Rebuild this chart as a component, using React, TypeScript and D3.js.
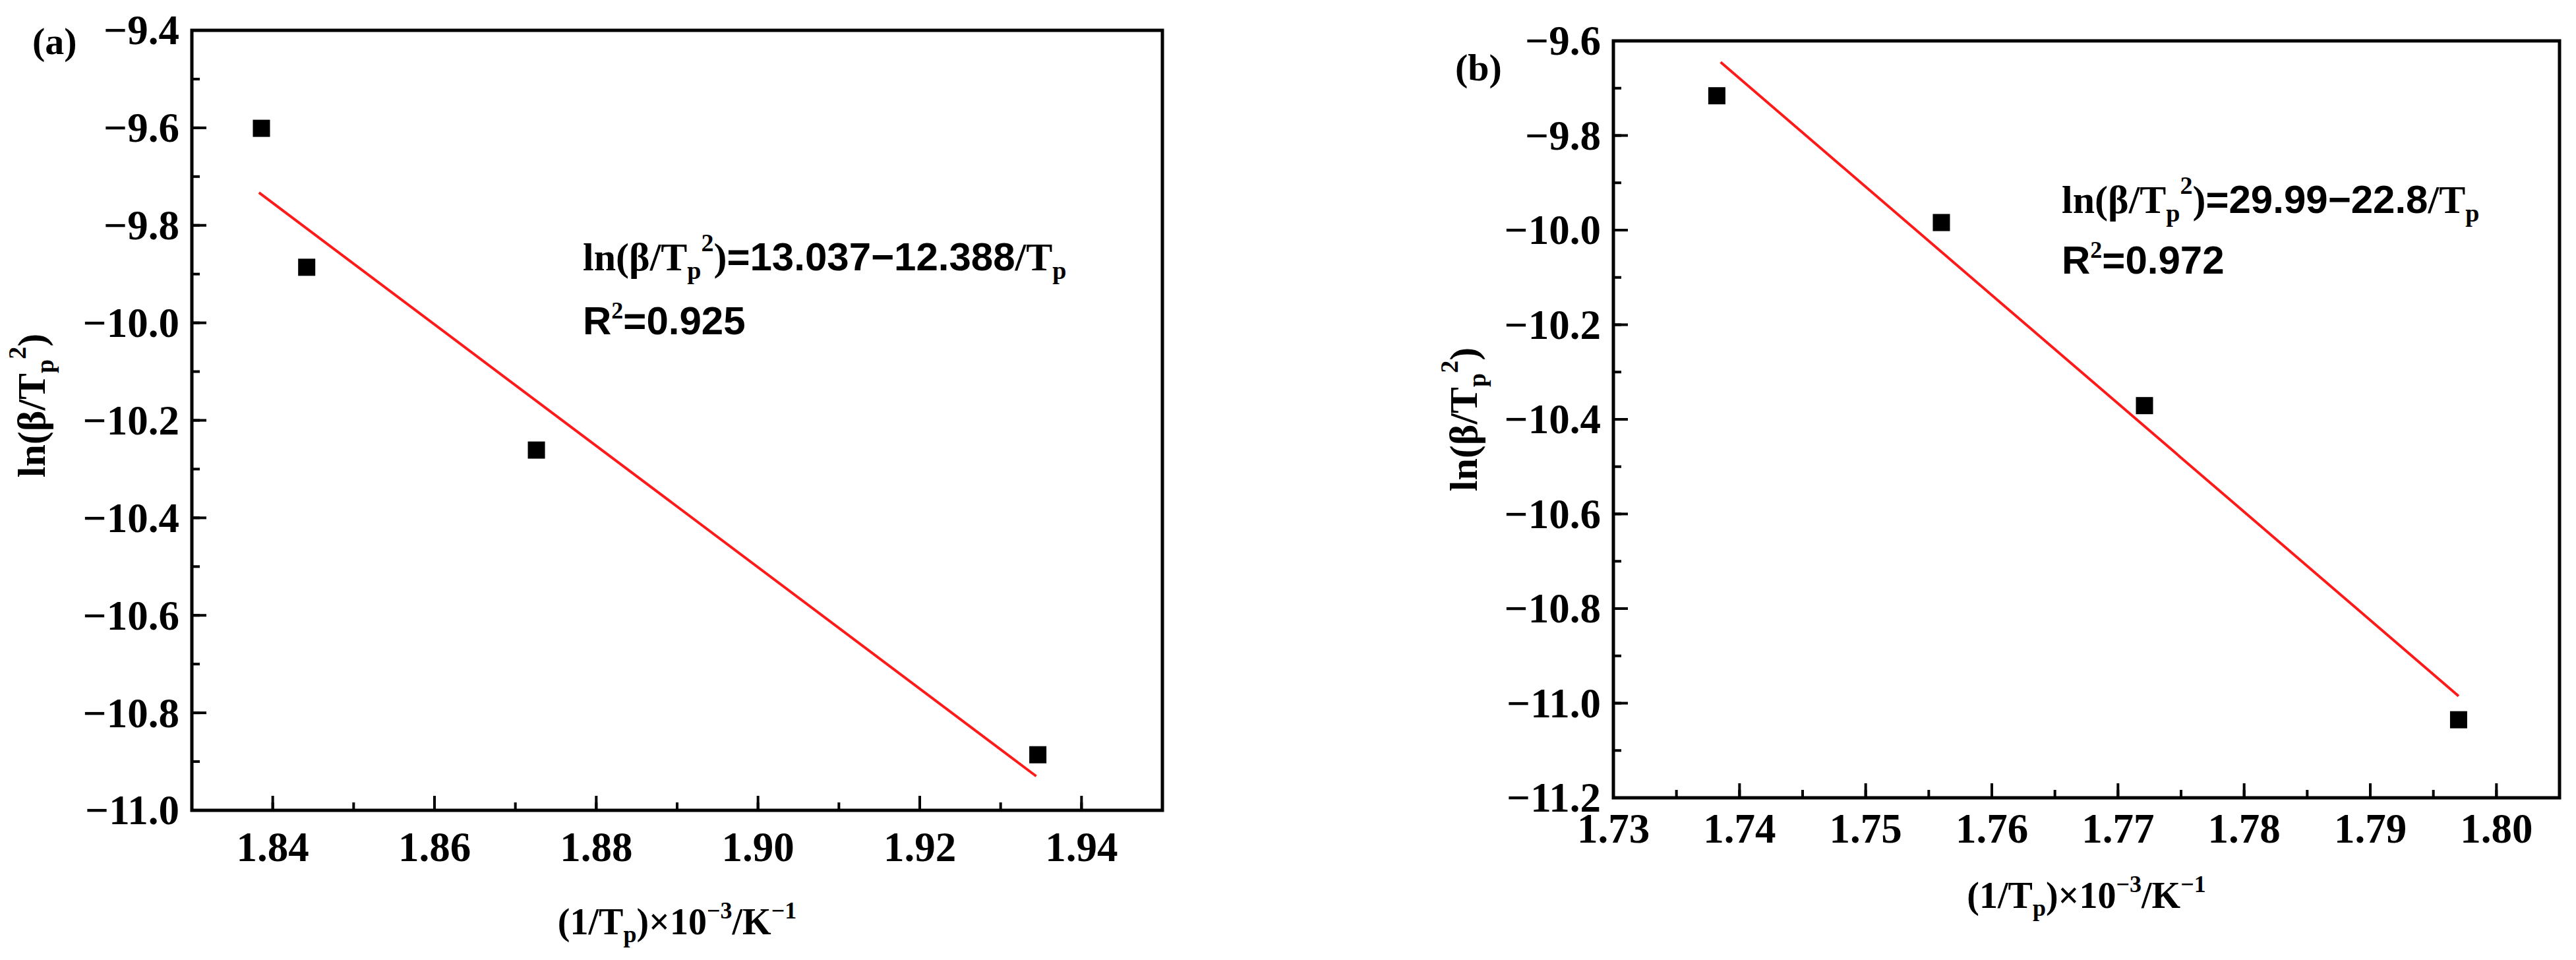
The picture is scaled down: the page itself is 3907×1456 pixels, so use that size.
import * as d3 from 'd3'

// panel (a)
const aX = [1.8386, 1.8442, 1.8726, 1.9346]
const aY = [-9.601, -9.886, -10.261, -10.886]
const aFitX = [1.8383, 1.9344]
const aFitY = [-9.733, -10.93]
const aXTicks = [1.84, 1.86, 1.88, 1.9, 1.92, 1.94]
const aYTicks = [-11.0, -10.8, -10.6, -10.4, -10.2, -10.0, -9.8, -9.6, -9.4]

// panel (b)
const bX = [1.7382, 1.756, 1.7721, 1.797]
const bY = [-9.716, -9.984, -10.371, -11.035]
const bFitX = [1.7385, 1.797]
const bFitY = [-9.645, -10.985]
const bXTicks = [1.73, 1.74, 1.75, 1.76, 1.77, 1.78, 1.79, 1.8]
const bYTicks = [-11.2, -11.0, -10.8, -10.6, -10.4, -10.2, -10.0, -9.8, -9.6]

const SERIF = '"Liberation Serif", "Times New Roman", serif'
const SANS = '"Liberation Sans", Arial, sans-serif'
const FS = 63

type PanelProps = {
  xs: number[]
  ys: number[]
  fitX: number[]
  fitY: number[]
  xTicks: number[]
  yTicks: number[]
  xDomain: [number, number]
  yDomain: [number, number]
  xMinorCount: number
  yMinorCount: number
  xFmt: string
  box: { left: number; right: number; top: number; bottom: number }
  tag: string
  tagPos: [number, number]
  intercept: string
  slope: string
  r2: string
  eqPos: [number, number]
  r2Y: number
  yLabelPos: [number, number]
  xTickY: number
  xLabelY: number
}

function Panel(p: PanelProps) {
  const { left, right, top, bottom } = p.box
  const x = d3.scaleLinear().domain(p.xDomain).range([left, right])
  const y = d3.scaleLinear().domain(p.yDomain).range([bottom, top])
  const fx = d3.format(p.xFmt)
  const fy = d3.format('.1f')
  const xMinor = x.ticks(p.xMinorCount)
  const yMinor = y.ticks(p.yMinorCount)
  const fit = d3
    .line<number>()
    .x((d) => x(d))
    .y((_, i) => y(p.fitY[i]))
  const sq = 26
  const axisW = 5
  const major = 22
  const minor = 12

  return (
    <g>
      <text x={p.tagPos[0]} y={p.tagPos[1]} fontFamily={SERIF} fontWeight="bold" fontSize={58}>
        {p.tag}
      </text>

      {/* minor ticks */}
      {xMinor.map((t) => (
        <line key={'xm' + t} x1={x(t)} x2={x(t)} y1={bottom} y2={bottom - minor} stroke="#000" strokeWidth={4} />
      ))}
      {yMinor.map((t) => (
        <line key={'ym' + t} x1={left} x2={left + minor} y1={y(t)} y2={y(t)} stroke="#000" strokeWidth={4} />
      ))}
      {/* major ticks + labels */}
      {p.xTicks.map((t) => (
        <g key={'xt' + t}>
          <line x1={x(t)} x2={x(t)} y1={bottom} y2={bottom - major} stroke="#000" strokeWidth={4} />
          <text x={x(t)} y={p.xTickY} textAnchor="middle" fontFamily={SERIF} fontWeight="bold" fontSize={FS}>
            {fx(t)}
          </text>
        </g>
      ))}
      {p.yTicks.map((t) => (
        <g key={'yt' + t}>
          <line x1={left} x2={left + major} y1={y(t)} y2={y(t)} stroke="#000" strokeWidth={4} />
          <text x={left - 19} y={y(t)} dy="0.34em" textAnchor="end" fontFamily={SERIF} fontWeight="bold" fontSize={FS}>
            {fy(t)}
          </text>
        </g>
      ))}

      <rect x={left} y={top} width={right - left} height={bottom - top} fill="none" stroke="#000" strokeWidth={axisW} />

      <path d={fit(p.fitX) ?? ''} fill="none" stroke="#ff1a1a" strokeWidth={4} />

      {p.xs.map((v, i) => (
        <rect key={'pt' + i} x={x(v) - sq / 2} y={y(p.ys[i]) - sq / 2} width={sq} height={sq} fill="#000" />
      ))}

      {/* fit equation */}
      <text x={p.eqPos[0]} y={p.eqPos[1]} fontWeight="bold" fontSize={60} fontFamily={SERIF}>
        <tspan>ln(β/T</tspan>
        <tspan fontSize={38} dy={13}>p</tspan>
        <tspan fontSize={38} dy={-42}>2</tspan>
        <tspan dy={29}>)</tspan>
        <tspan fontFamily={SANS}>={p.intercept}−{p.slope}</tspan>
        <tspan>/T</tspan>
        <tspan fontSize={38} dy={13}>p</tspan>
      </text>
      <text x={p.eqPos[0]} y={p.r2Y} fontWeight="bold" fontSize={60} fontFamily={SANS}>
        <tspan>R</tspan>
        <tspan fontFamily={SERIF} fontSize={36} dy={-24}>2</tspan>
        <tspan dy={24}>={p.r2}</tspan>
      </text>

      {/* axis titles */}
      <text
        transform={`translate(${p.yLabelPos[0]},${p.yLabelPos[1]}) rotate(-90)`}
        textAnchor="middle"
        fontFamily={SERIF}
        fontWeight="bold"
        fontSize={60}
      >
        <tspan>ln(β/T</tspan>
        <tspan fontSize={38} dy={13}>p</tspan>
        <tspan fontSize={38} dy={-42}>2</tspan>
        <tspan dy={29}>)</tspan>
      </text>
      <text x={(left + right) / 2} y={p.xLabelY} textAnchor="middle" fontFamily={SERIF} fontWeight="bold" fontSize={56}>
        <tspan>(1/T</tspan>
        <tspan fontSize={36} dy={12}>p</tspan>
        <tspan dy={-12}>)×10</tspan>
        <tspan fontSize={36} dy={-24}>−3</tspan>
        <tspan dy={24}>/K</tspan>
        <tspan fontSize={36} dy={-24}>−1</tspan>
      </text>
    </g>
  )
}

export default function App() {
  return (
    <svg
      width={3907}
      height={1456}
      style={{ position: 'absolute', left: 0, top: 0, background: '#fff', display: 'block' }}
    >
      <rect width={3907} height={1456} fill="#fff" />
      <Panel
        xs={aX}
        ys={aY}
        fitX={aFitX}
        fitY={aFitY}
        xTicks={aXTicks}
        yTicks={aYTicks}
        xDomain={[1.83, 1.95]}
        yDomain={[-11.0, -9.4]}
        xMinorCount={12}
        yMinorCount={16}
        xFmt=".2f"
        box={{ left: 291, right: 1763, top: 46, bottom: 1229 }}
        tag="(a)"
        tagPos={[49, 82]}
        intercept="13.037"
        slope="12.388"
        r2="0.925"
        eqPos={[884, 410]}
        r2Y={507}
        yLabelPos={[68, 615]}
        xTickY={1306}
        xLabelY={1417}
      />
      <Panel
        xs={bX}
        ys={bY}
        fitX={bFitX}
        fitY={bFitY}
        xTicks={bXTicks}
        yTicks={bYTicks}
        xDomain={[1.73, 1.805]}
        yDomain={[-11.2, -9.6]}
        xMinorCount={15}
        yMinorCount={16}
        xFmt=".2f"
        box={{ left: 2447, right: 3882, top: 62, bottom: 1210 }}
        tag="(b)"
        tagPos={[2207, 122]}
        intercept="29.99"
        slope="22.8"
        r2="0.972"
        eqPos={[3127, 323]}
        r2Y={415}
        yLabelPos={[2240, 636]}
        xTickY={1278}
        xLabelY={1377}
      />
    </svg>
  )
}
